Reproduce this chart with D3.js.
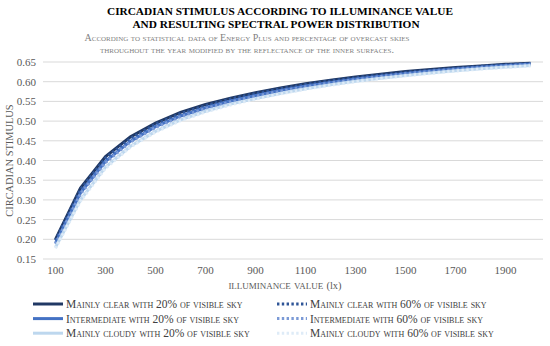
<!DOCTYPE html>
<html>
<head>
<meta charset="utf-8">
<script src="https://cdn.jsdelivr.net/npm/d3@7"></script>
<style>
  body { margin: 0; background: #fff; }
  text { font-family: "Liberation Serif", "Times New Roman", serif; }
</style>
</head>
<body>
<script>
"use strict";

const width = 550;
const height = 346;

// illuminance categories (lx)
const lux = [100, 200, 300, 400, 500, 600, 700, 800, 900, 1000,
             1100, 1200, 1300, 1400, 1500, 1600, 1700, 1800, 1900, 2000];
const yTicks = [0.15, 0.20, 0.25, 0.30, 0.35, 0.40, 0.45, 0.50, 0.55, 0.60, 0.65];
const xLabels = [100, 300, 500, 700, 900, 1100, 1300, 1500, 1700, 1900];

const clear20  = [0.200, 0.330, 0.410, 0.460, 0.495, 0.522, 0.542, 0.558, 0.572, 0.584,
                  0.595, 0.604, 0.612, 0.619, 0.626, 0.631, 0.636, 0.640, 0.644, 0.647];
const clear60  = [0.197, 0.326, 0.406, 0.456, 0.492, 0.519, 0.539, 0.556, 0.570, 0.582,
                  0.593, 0.602, 0.610, 0.617, 0.624, 0.629, 0.634, 0.639, 0.643, 0.646];
const inter20  = [0.190, 0.318, 0.398, 0.449, 0.486, 0.513, 0.534, 0.551, 0.565, 0.578,
                  0.589, 0.598, 0.607, 0.614, 0.621, 0.627, 0.632, 0.637, 0.641, 0.645];
const inter60  = [0.188, 0.315, 0.395, 0.447, 0.484, 0.511, 0.532, 0.549, 0.563, 0.576,
                  0.587, 0.597, 0.605, 0.613, 0.620, 0.626, 0.631, 0.636, 0.640, 0.644];
const cloudy20 = [0.180, 0.300, 0.383, 0.436, 0.474, 0.503, 0.525, 0.543, 0.557, 0.570,
                  0.582, 0.592, 0.601, 0.609, 0.616, 0.622, 0.628, 0.633, 0.637, 0.641];
const cloudy60 = [0.177, 0.297, 0.380, 0.434, 0.472, 0.501, 0.523, 0.541, 0.556, 0.569,
                  0.581, 0.591, 0.600, 0.608, 0.615, 0.621, 0.627, 0.632, 0.636, 0.640];

const series = [
  {name: "Mainly clear with 20% of visible sky",  values: clear20,  color: "#203864", dash: null},
  {name: "Mainly clear with 60% of visible sky",  values: clear60,  color: "#2f5597", dash: "2.4,2.4"},
  {name: "Intermediate with 20% of visible sky",  values: inter20,  color: "#4472c4", dash: null},
  {name: "Intermediate with 60% of visible sky",  values: inter60,  color: "#7b9ad6", dash: "2.4,2.4"},
  {name: "Mainly cloudy with 20% of visible sky", values: cloudy20, color: "#bdd7ee", dash: null},
  {name: "Mainly cloudy with 60% of visible sky", values: cloudy60, color: "#deebf7", dash: "2.4,2.4"}
];

const plot = {left: 43, right: 543, top: 62, bottom: 259};

let svg = d3.select("body").append("svg")
    .attr("width", width)
    .attr("height", height);

let x = d3.scaleBand()
    .domain(lux)
    .range([plot.left, plot.right]);

let y = d3.scaleLinear()
    .domain([0.15, 0.65])
    .range([plot.bottom, plot.top]);

// gridlines
svg.append("g")
    .selectAll("line")
    .data(yTicks)
    .enter()
    .append("line")
    .attr("x1", plot.left)
    .attr("x2", plot.right)
    .attr("y1", d => y(d))
    .attr("y2", d => y(d))
    .style("stroke", "#d9d9d9")
    .style("stroke-width", 1);

// y axis labels
let yAxis = svg.append("g")
    .attr("transform", `translate(${plot.left},0)`)
    .call(d3.axisLeft(y).tickValues(yTicks).tickFormat(d3.format(".2f")).tickSize(0).tickPadding(7));
yAxis.select(".domain").remove();
yAxis.selectAll("text")
    .style("font-family", "'Liberation Serif', serif")
    .style("font-size", "11px")
    .style("fill", "#595959");

// x axis labels, every other category
let xAxis = svg.append("g")
    .attr("transform", `translate(0,${plot.bottom})`)
    .call(d3.axisBottom(x).tickValues(xLabels).tickSize(0).tickPadding(7));
xAxis.select(".domain").remove();
xAxis.selectAll("text")
    .style("font-family", "'Liberation Serif', serif")
    .style("font-size", "11px")
    .style("fill", "#595959");

// lines
let line = d3.line()
    .x((d, i) => x(lux[i]) + x.bandwidth() / 2)
    .y(d => y(d));

svg.append("g")
    .selectAll("path")
    .data(series)
    .enter()
    .append("path")
    .attr("d", d => line(d.values))
    .style("fill", "none")
    .style("stroke", d => d.color)
    .style("stroke-width", 3)
    .style("stroke-dasharray", d => d.dash);

// titles
svg.append("text")
    .attr("x", 280).attr("y", 15)
    .attr("text-anchor", "middle")
    .style("font-size", "11.3px")
    .style("font-weight", "bold")
    .style("fill", "#000")
    .text("CIRCADIAN STIMULUS ACCORDING TO ILLUMINANCE VALUE");

svg.append("text")
    .attr("x", 276).attr("y", 28)
    .attr("text-anchor", "middle")
    .style("font-size", "11.3px")
    .style("font-weight", "bold")
    .style("fill", "#000")
    .text("AND RESULTING SPECTRAL POWER DISTRIBUTION");

svg.append("text")
    .attr("x", 247).attr("y", 41)
    .attr("text-anchor", "middle")
    .style("font-size", "10px")
    .style("font-variant", "small-caps")
    .style("fill", "#7f7f7f")
    .text("According to statistical data of Energy Plus and percentage of overcast skies");

svg.append("text")
    .attr("x", 247).attr("y", 53)
    .attr("text-anchor", "middle")
    .style("font-size", "10px")
    .style("font-variant", "small-caps")
    .style("fill", "#7f7f7f")
    .text("throughout the year modified by the reflectance of the inner surfaces.");

// axis titles
svg.append("text")
    .attr("transform", `translate(13,${(plot.top + plot.bottom) / 2}) rotate(-90)`)
    .attr("text-anchor", "middle")
    .style("font-size", "10.4px")
    .style("fill", "#595959")
    .text("CIRCADIAN STIMULUS");

let xTitle = svg.append("text")
    .attr("x", 285).attr("y", 289)
    .attr("text-anchor", "middle")
    .style("font-size", "12.5px")
    .style("fill", "#595959");
xTitle.append("tspan")
    .style("font-variant", "small-caps")
    .text("illuminance value ");
xTitle.append("tspan")
    .style("font-size", "10.5px")
    .text("(lx)");

// legend, two columns
let legend = svg.append("g")
    .selectAll("g")
    .data(series)
    .enter()
    .append("g")
    .attr("transform", (d, i) => `translate(${i % 2 === 0 ? 33 : 277},${304 + Math.floor(i / 2) * 14.6})`);

legend.append("line")
    .attr("x1", 0).attr("x2", 30)
    .attr("y1", 0).attr("y2", 0)
    .style("stroke", d => d.color)
    .style("stroke-width", 3)
    .style("stroke-dasharray", d => d.dash);

legend.append("text")
    .attr("x", 33).attr("y", 4)
    .style("font-size", "11.5px")
    .style("font-variant", "small-caps")
    .style("fill", "#404040")
    .text(d => d.name);

</script>
</body>
</html>
